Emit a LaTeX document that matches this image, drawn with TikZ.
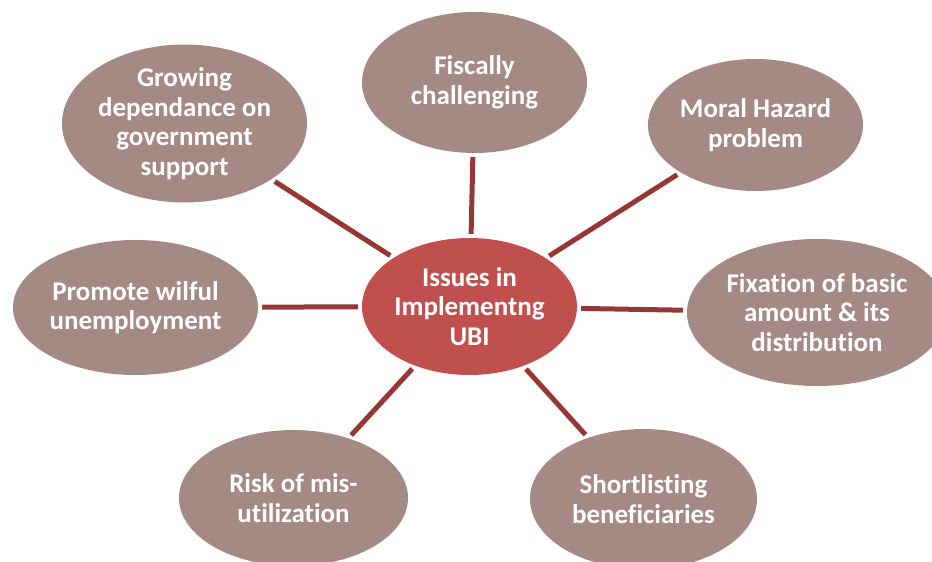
\documentclass[tikz,border=0pt]{standalone}
\usepackage{fontspec}
\setmainfont{Carlito}[Ligatures={NoCommon}]
\usetikzlibrary{shapes.geometric}
\definecolor{petal}{HTML}{A58985}
\definecolor{hub}{HTML}{C0504D}
\definecolor{spoke}{HTML}{953735}
\tikzset{
  bubble/.style={ellipse, fill=petal, draw=none, inner sep=0pt, text=white,
    align=center, font=\fontsize{27}{29.5}\selectfont\bfseries},
  hubbubble/.style={bubble, fill=hub},
  link/.style={draw=spoke, line width=5pt, shorten <=4pt, shorten >=4pt}
}
\begin{document}
\begin{tikzpicture}[x=1pt, y=-1pt]
  \useasboundingbox (0,0) rectangle (932,562);
  \clip (0,0) rectangle (932,562);

  \node[hubbubble, minimum width=215pt, minimum height=137pt] (hub) at (469.5,306.5)
    {Issues in\\Implementng\\UBI};

  \node[bubble, minimum width=245pt, minimum height=135pt] (dep) at (184.5,123.5)
    {Growing\\dependance on\\government\\support};
  \node[bubble, minimum width=225pt, minimum height=141pt] (fis) at (474.5,82.5)
    {Fiscally\\challenging};
  \node[bubble, minimum width=215pt, minimum height=132pt] (mor) at (755.5,125)
    {Moral Hazard\\problem};
  \node[bubble, minimum width=260pt, minimum height=147pt] (fix) at (817,312.5)
    {Fixation of basic\\amount \& its\\distribution};
  \node[bubble, minimum width=245pt, minimum height=135pt] (pro) at (135.5,307.5)
    {Promote wilful\\unemployment};
  \node[bubble, minimum width=229pt, minimum height=136pt] (ris) at (293.5,498)
    {Risk of mis-\\utilization};
  \node[bubble, minimum width=227pt, minimum height=140pt] (sho) at (643.5,499)
    {Shortlisting\\beneficiaries};

  \foreach \n in {dep,fis,mor,fix,pro,ris,sho}
    \draw[link] (\n) -- (hub);
\end{tikzpicture}
\end{document}
